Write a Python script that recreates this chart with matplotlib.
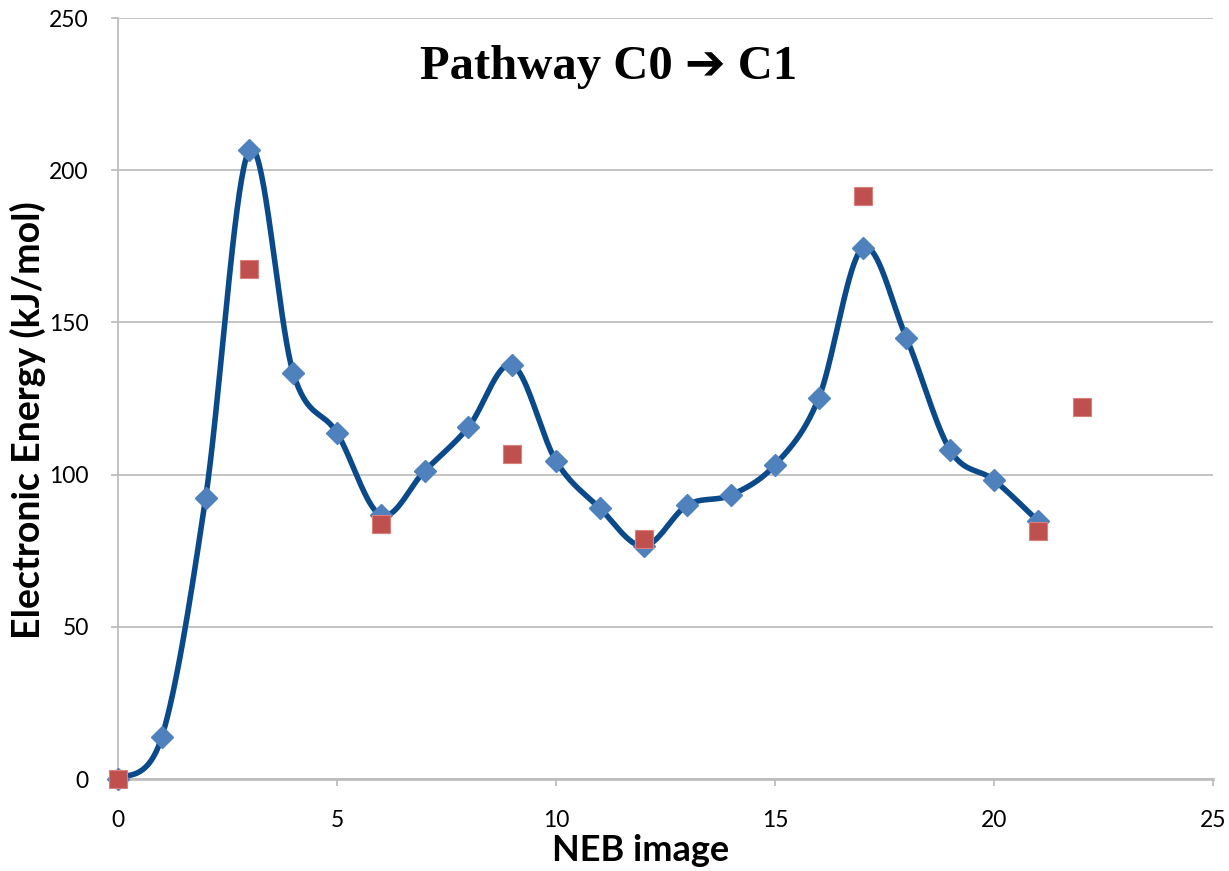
import matplotlib
matplotlib.use("Agg")
import matplotlib.pyplot as plt
import numpy as np

# NEB images along pathway C0 -> C1 (kJ/mol)
neb_image = [0, 1, 2, 3, 4, 5, 6, 7, 8, 9, 10, 11, 12, 13, 14, 15, 16, 17, 18, 19, 20, 21]
neb_energy = [0.0, 13.8, 92.3, 206.6, 133.4, 113.7, 86.7, 101.2, 115.6, 136.0, 104.5,
              89.0, 76.5, 90.0, 93.3, 103.2, 125.2, 174.4, 144.9, 108.0, 98.2, 84.8]

# separately optimised structures
opt_image = [0, 3, 6, 9, 12, 17, 21, 22]
opt_energy = [0.0, 167.5, 83.8, 106.8, 78.8, 191.5, 81.5, 122.2]


def smooth_curve(x, y, n=40):
    # Catmull-Rom style cubic Bezier through every point (spreadsheet "smoothed line")
    x = np.asarray(x, float)
    y = np.asarray(y, float)
    px = np.concatenate([[x[0]], x, [x[-1]]])
    py = np.concatenate([[y[0]], y, [y[-1]]])
    t = np.linspace(0, 1, n)[:, None]
    xs, ys = [], []
    for i in range(1, len(px) - 2):
        p0 = np.array([px[i], py[i]])
        p3 = np.array([px[i + 1], py[i + 1]])
        c1 = p0 + (np.array([px[i + 1], py[i + 1]]) - np.array([px[i - 1], py[i - 1]])) / 6
        c2 = p3 - (np.array([px[i + 2], py[i + 2]]) - np.array([px[i], py[i]])) / 6
        b = ((1 - t) ** 3) * p0 + 3 * ((1 - t) ** 2) * t * c1 + 3 * (1 - t) * t ** 2 * c2 + t ** 3 * p3
        xs.append(b[:, 0])
        ys.append(b[:, 1])
    return np.concatenate(xs), np.concatenate(ys)


fig = plt.figure(figsize=(12.29, 8.71), dpi=100)
ax = fig.add_axes([0.096, 0.1056, 0.891, 0.8737])

sx, sy = smooth_curve(neb_image, neb_energy)
ax.plot(sx, sy, color="#0A4A8A", lw=4.0, solid_capstyle="round", zorder=3)
ax.plot(neb_image, neb_energy, linestyle="none", marker="D", ms=11,
        mfc="#4F81BD", mec="#4F81BD", zorder=4, clip_on=False)
ax.plot(opt_image, opt_energy, linestyle="none", marker="s", ms=12.5,
        mfc="#C0504D", mec="#D9807D", mew=0.8, zorder=5, clip_on=False)

ax.set_xlim(0, 25)
ax.set_ylim(0, 250)
ax.set_xticks(range(0, 26, 5))
ax.set_yticks(range(0, 251, 50))
ax.yaxis.grid(True, color="#BEBEBE", lw=1.3)
ax.set_axisbelow(True)

for side in ["top", "right"]:
    ax.spines[side].set_visible(False)
ax.spines["left"].set_color("#BEBEBE")
ax.spines["left"].set_linewidth(1.3)
ax.spines["bottom"].set_color("#BEBEBE")
ax.spines["bottom"].set_linewidth(2.0)
ax.spines["left"].set_zorder(1)

ax.tick_params(axis="x", direction="out", length=5, width=1.3, color="#BEBEBE",
               pad=17, labelsize=16.5)
ax.tick_params(axis="y", direction="out", length=5, width=1.3, color="#BEBEBE",
               pad=16, labelsize=16.5)
for lab in ax.get_xticklabels() + ax.get_yticklabels():
    lab.set_fontfamily("Lato")

ax.set_xlabel("NEB image", fontsize=26, fontweight="bold", family="Lato")
ax.xaxis.set_label_coords(0.477, -0.072)
ax.set_ylabel("Electronic Energy (kJ/mol)", fontsize=27, fontweight="bold", family="Lato")
ax.yaxis.set_label_coords(-0.066, 0.472)

ax.text(0.448, 0.935, "Pathway C0 \u2794 C1", transform=ax.transAxes,
        ha="center", va="center", fontsize=35, fontweight="bold",
        family=["Liberation Serif", "DejaVu Sans"])

fig.savefig("out.png", dpi=100)
